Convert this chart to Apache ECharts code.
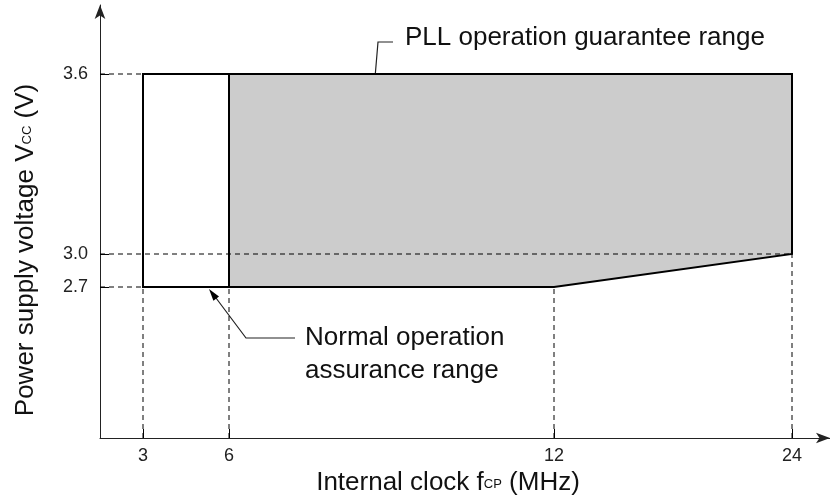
<!DOCTYPE html>
<html>
<head>
<meta charset="utf-8">
<script src="https://cdn.jsdelivr.net/npm/echarts@6/dist/echarts.min.js"></script>
<style>
  html, body { margin: 0; padding: 0; background: #fff; }
  #chart { width: 830px; height: 497px; }
</style>
</head>
<body>
<div id="chart"></div>
<script>
// schematic chart, axes are not to scale: every tick value has its own slot on the axis
const freqTicks = [3, 6, 12, 24];
const freqSlots = [43, 129, 454, 692];
const voltTicks = [2.7, 3.0, 3.6];
const voltSlots = [151, 184, 364];

// normal operation assurance range (MHz, V)
const normalRange = [[3, 2.7], [6, 2.7], [6, 3.6], [3, 3.6]];
// PLL operation guarantee range (MHz, V)
const pllRange = [[6, 2.7], [12, 2.7], [24, 3.0], [24, 3.6], [6, 3.6]];

// dashed guides, 0 = the axis itself
const guides = [
  [[0, 3.6], [3, 3.6]],
  [[0, 3.0], [24, 3.0]],
  [[0, 2.7], [3, 2.7]],
  [[3, 0], [3, 2.7]],
  [[6, 0], [6, 2.7]],
  [[12, 0], [12, 2.7]],
  [[24, 0], [24, 3.0]],
];

const FONT = '"Liberation Sans", Arial, Helvetica, sans-serif';

function fx(v) { return v === 0 ? 0 : freqSlots[freqTicks.indexOf(v)]; }
function fy(v) { return v === 0 ? 0 : voltSlots[voltTicks.indexOf(v)]; }
function toAxis(p) { return [fx(p[0]), fy(p[1])]; }

function polygonSeries(pts, fill) {
  return {
    type: 'custom',
    silent: true,
    data: [[0, 0]],
    renderItem: (params, api) => ({
      type: 'polygon',
      shape: { points: pts.map((p) => api.coord(toAxis(p))) },
      style: { fill: fill, stroke: '#000', lineWidth: 2, lineJoin: 'miter' },
    }),
  };
}

// little arrow head for the callouts
function arrowHead(from, tip, len, half) {
  const dx = tip[0] - from[0];
  const dy = tip[1] - from[1];
  const d = Math.sqrt(dx * dx + dy * dy);
  const ux = dx / d, uy = dy / d;
  const bx = tip[0] - ux * len, by = tip[1] - uy * len;
  return {
    type: 'polygon',
    shape: { points: [tip, [bx - uy * half, by + ux * half], [bx + uy * half, by - ux * half]] },
    style: { fill: '#000' },
  };
}

function label(text, x, y) {
  return {
    type: 'text',
    x: x,
    y: y,
    style: { text: text, font: '26px ' + FONT, fill: '#111', align: 'left', verticalAlign: 'middle' },
  };
}

const chart = echarts.init(document.getElementById('chart'));

const series = [
  polygonSeries(normalRange, '#ffffff'),
  polygonSeries(pllRange, '#cccccc'),
];
guides.forEach((g) => {
  series.push({
    type: 'line',
    silent: true,
    symbol: 'none',
    z: 3,
    data: g.map(toAxis),
    lineStyle: { color: '#000', width: 1, type: [5, 4] },
  });
});

const titleRich = {
  sub: { fontSize: 13, fontFamily: FONT, color: '#111', verticalAlign: 'bottom', padding: [0, 0, 5, 0] },
};

const option = {
  animation: false,
  backgroundColor: '#fff',
  textStyle: { fontFamily: FONT },
  grid: { left: 100, right: 0, top: 5, bottom: 59, containLabel: false, outerBoundsMode: 'none' },
  xAxis: {
    type: 'value',
    min: 0,
    max: 730,
    splitLine: { show: false },
    axisLine: {
      symbol: ['none', 'arrow'],
      symbolSize: [8, 14],
      lineStyle: { color: '#222', width: 1 },
    },
    axisTick: { customValues: freqSlots, inside: true, length: 9, lineStyle: { color: '#000' } },
    axisLabel: {
      customValues: freqSlots,
      formatter: (v) => String(freqTicks[freqSlots.indexOf(v)]),
      color: '#222',
      fontSize: 18,
      fontFamily: FONT,
      margin: 9,
    },
    name: 'Internal clock f{sub|CP} (MHz)',
    nameLocation: 'middle',
    nameGap: 30,
    nameTextStyle: {
      color: '#111',
      fontSize: 26,
      fontFamily: FONT,
      padding: [0, 34, 0, 0],
      rich: titleRich,
    },
  },
  yAxis: {
    type: 'value',
    min: 0,
    max: 433,
    splitLine: { show: false },
    axisLine: {
      symbol: ['none', 'arrow'],
      symbolSize: [8, 14],
      lineStyle: { color: '#222', width: 1 },
    },
    axisTick: { customValues: voltSlots, inside: true, length: 9, lineStyle: { color: '#000' } },
    axisLabel: {
      customValues: voltSlots,
      formatter: (v) => voltTicks[voltSlots.indexOf(v)].toFixed(1),
      color: '#222',
      fontSize: 18,
      fontFamily: FONT,
      margin: 12,
    },
    name: 'Power supply voltage V{sub|CC} (V)',
    nameLocation: 'middle',
    nameGap: 61,
    nameRotate: 90,
    nameTextStyle: {
      color: '#111',
      fontSize: 26,
      fontFamily: FONT,
      padding: [0, 57, 0, 0],
      rich: titleRich,
    },
  },
  series: series,
  graphic: [
    label('PLL operation guarantee range', 405, 38),
    {
      type: 'polyline',
      shape: { points: [[393, 42], [378, 42], [371, 125]] },
      style: { stroke: '#222', lineWidth: 1.2, fill: null },
    },
    arrowHead([378, 42], [370.6, 131], 12, 3.5),
    label('Normal operation', 305, 338),
    label('assurance range', 305, 371),
    {
      type: 'polyline',
      shape: { points: [[295, 338], [246, 338], [213, 294]] },
      style: { stroke: '#222', lineWidth: 1.2, fill: null },
    },
    arrowHead([246, 338], [209, 289], 12, 3.5),
  ],
};

chart.setOption(option);
</script>
</body>
</html>
